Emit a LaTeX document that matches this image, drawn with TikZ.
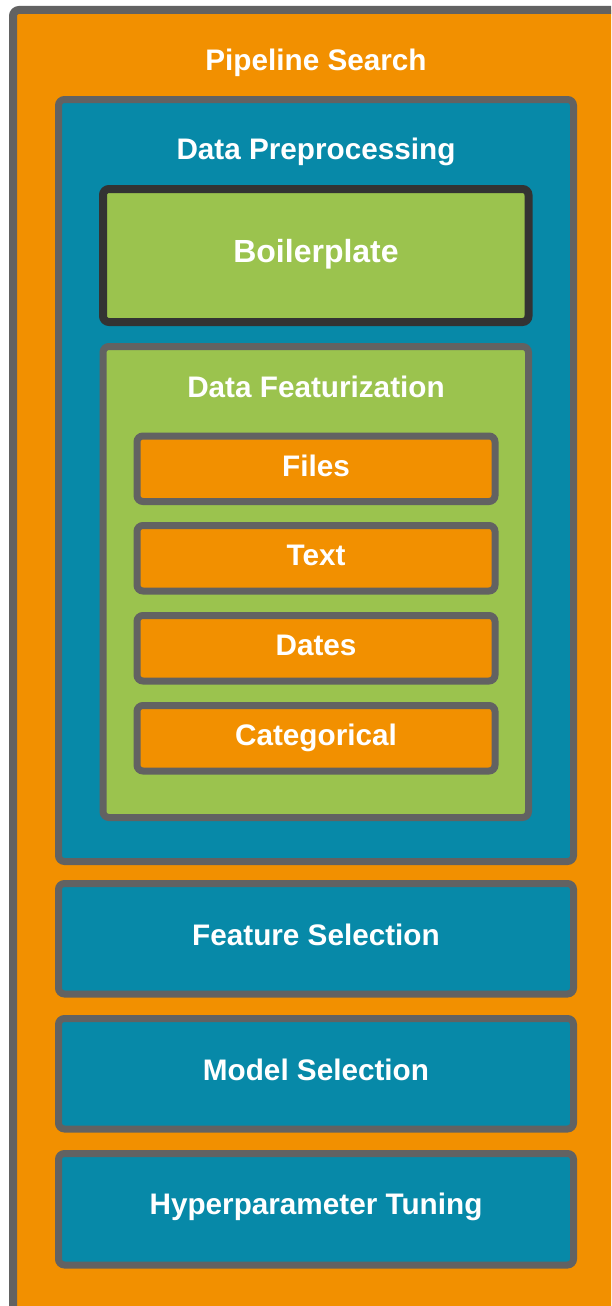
\documentclass[tikz,border=0pt]{standalone}
\usepackage{fontspec}
\setmainfont{Liberation Sans}
\definecolor{borange}{HTML}{F29000}
\definecolor{bteal}{HTML}{0789A8}
\definecolor{bgreen}{HTML}{9BC34E}
\definecolor{bgray}{HTML}{626262}
\definecolor{bdark}{HTML}{333333}
\begin{document}
\begin{tikzpicture}[x=1pt,y=-1pt,
  box/.style={draw=bgray, line width=7pt, rounded corners=6pt, rectangle, inner sep=0pt, outer sep=0pt},
  lbl/.style={text=white, font=\fontsize{29.7}{34}\selectfont\bfseries, text height=21.3pt, text depth=0pt, inner sep=0pt},
  biglbl/.style={lbl, font=\fontsize{32}{38}\selectfont\bfseries, text height=22.9pt}]
\useasboundingbox (0,0) rectangle (611,1306);
\clip (0,0) rectangle (611,1306);
\node[box, line width=8pt, fill=borange, minimum width=627pt, minimum height=1330pt] (outer) at (326.5,675) {};
\node[box, fill=bteal, minimum width=515pt, minimum height=762pt] (dp) at (316,480.5) {};
\node[box, draw=bdark, line width=8pt, fill=bgreen, minimum width=425.5pt, minimum height=133pt] (bp) at (315.75,255.5) {};
\node[box, fill=bgreen, minimum width=425.5pt, minimum height=471pt] (df) at (315.75,582) {};
\node[box, fill=borange, minimum width=358pt, minimum height=65.5pt] (files) at (316,468.75) {};
\node[box, fill=borange, minimum width=358pt, minimum height=65.5pt] (text) at (316,558.25) {};
\node[box, fill=borange, minimum width=358pt, minimum height=65.5pt] (dates) at (316,648.25) {};
\node[box, fill=borange, minimum width=358pt, minimum height=65.5pt] (cat) at (316,738.25) {};
\node[box, fill=bteal, minimum width=515pt, minimum height=110.5pt] (fs) at (316,938.75) {};
\node[box, fill=bteal, minimum width=515pt, minimum height=110.5pt] (ms) at (316,1073.75) {};
\node[box, fill=bteal, minimum width=515pt, minimum height=111.5pt] (ht) at (316,1209.25) {};
\node[lbl] (tps) at (316,60) {Pipeline Search};
\node[lbl] (tdp) at (316,149) {Data Preprocessing};
\node[biglbl] (tbp) at (316,251) {Boilerplate};
\node[lbl] (tdf) at (316,387) {Data Featurization};
\node[lbl] (tfi) at (316,466) {Files};
\node[lbl] (tte) at (316,555) {Text};
\node[lbl] (tda) at (316,645) {Dates};
\node[lbl] (tca) at (316,735) {Categorical};
\node[lbl] (tfs) at (316,935) {Feature Selection};
\node[lbl] (tms) at (316,1070) {Model Selection};
\node[lbl] (tht) at (316,1204) {Hyperparameter Tuning};
\end{tikzpicture}
\end{document}
